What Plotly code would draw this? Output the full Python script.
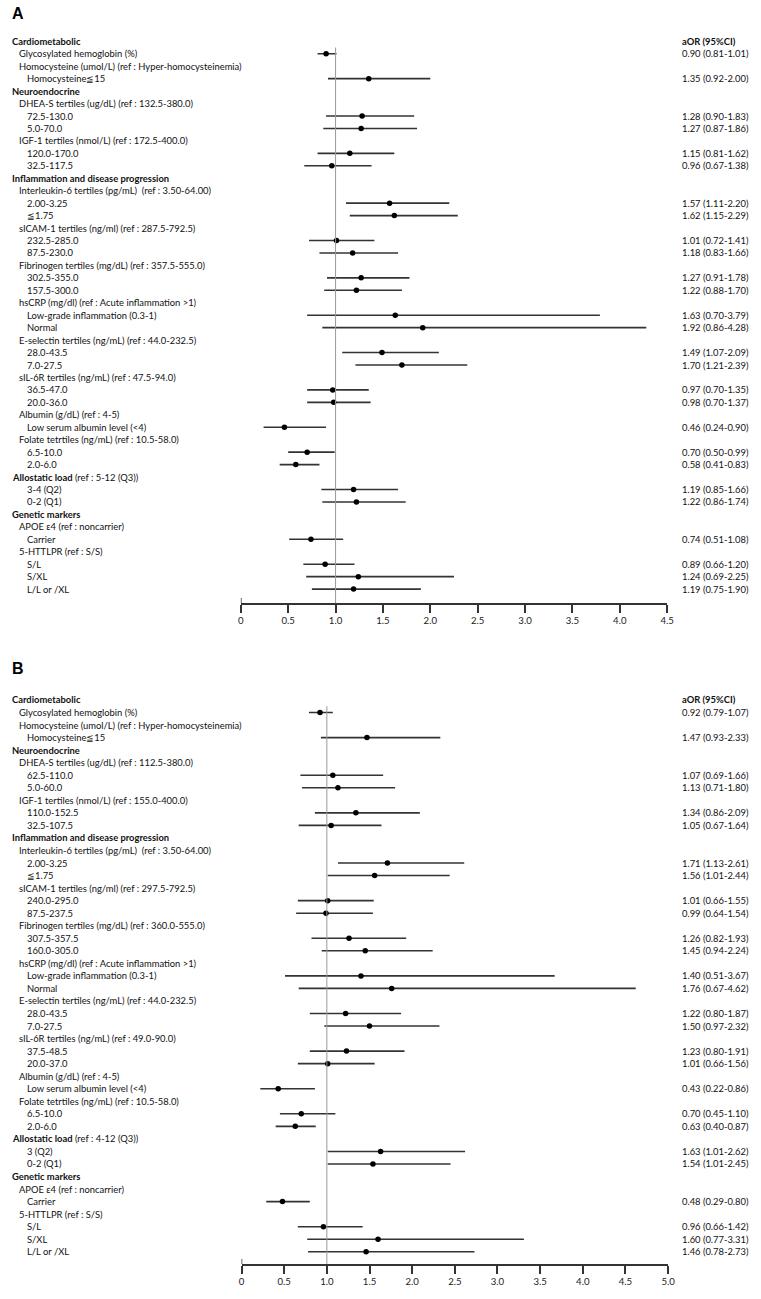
import plotly.graph_objects as go

# ---------------- data ----------------
labels_A = [
    "Cardiometabolic",
    "Glycosylated hemoglobin (%)",
    "Homocysteine (umol/L) (ref : Hyper-homocysteinemia)",
    "Homocysteine≦15",
    "Neuroendocrine",
    "DHEA-S tertiles (ug/dL) (ref : 132.5-380.0)",
    "72.5-130.0",
    "5.0-70.0",
    "IGF-1 tertiles (nmol/L) (ref : 172.5-400.0)",
    "120.0-170.0",
    "32.5-117.5",
    "Inflammation and disease progression",
    "Interleukin-6 tertiles (pg/mL)  (ref : 3.50-64.00)",
    "2.00-3.25",
    "≦1.75",
    "sICAM-1 tertiles (ng/ml) (ref : 287.5-792.5)",
    "232.5-285.0",
    "87.5-230.0",
    "Fibrinogen tertiles (mg/dL) (ref : 357.5-555.0)",
    "302.5-355.0",
    "157.5-300.0",
    "hsCRP (mg/dl) (ref : Acute inflammation >1)",
    "Low-grade inflammation (0.3-1)",
    "Normal",
    "E-selectin tertiles (ng/mL) (ref : 44.0-232.5)",
    "28.0-43.5",
    "7.0-27.5",
    "sIL-6R tertiles (ng/mL) (ref : 47.5-94.0)",
    "36.5-47.0",
    "20.0-36.0",
    "Albumin (g/dL) (ref : 4-5)",
    "Low serum albumin level (<4)",
    "Folate tetrtiles (ng/mL) (ref : 10.5-58.0)",
    "6.5-10.0",
    "2.0-6.0",
    "<b>Allostatic load</b> (ref : 5-12 (Q3))",
    "3-4 (Q2)",
    "0-2 (Q1)",
    "Genetic markers",
    "APOE ε4 (ref : noncarrier)",
    "Carrier",
    "5-HTTLPR (ref : S/S)",
    "S/L",
    "S/XL",
    "L/L or /XL",
]

labels_B = [
    "Cardiometabolic",
    "Glycosylated hemoglobin (%)",
    "Homocysteine (umol/L) (ref : Hyper-homocysteinemia)",
    "Homocysteine≦15",
    "Neuroendocrine",
    "DHEA-S tertiles (ug/dL) (ref : 112.5-380.0)",
    "62.5-110.0",
    "5.0-60.0",
    "IGF-1 tertiles (nmol/L) (ref : 155.0-400.0)",
    "110.0-152.5",
    "32.5-107.5",
    "Inflammation and disease progression",
    "Interleukin-6 tertiles (pg/mL)  (ref : 3.50-64.00)",
    "2.00-3.25",
    "≦1.75",
    "sICAM-1 tertiles (ng/ml) (ref : 297.5-792.5)",
    "240.0-295.0",
    "87.5-237.5",
    "Fibrinogen tertiles (mg/dL) (ref : 360.0-555.0)",
    "307.5-357.5",
    "160.0-305.0",
    "hsCRP (mg/dl) (ref : Acute inflammation >1)",
    "Low-grade inflammation (0.3-1)",
    "Normal",
    "E-selectin tertiles (ng/mL) (ref : 44.0-232.5)",
    "28.0-43.5",
    "7.0-27.5",
    "sIL-6R tertiles (ng/mL) (ref : 49.0-90.0)",
    "37.5-48.5",
    "20.0-37.0",
    "Albumin (g/dL) (ref : 4-5)",
    "Low serum albumin level (<4)",
    "Folate tetrtiles (ng/mL) (ref : 10.5-58.0)",
    "6.5-10.0",
    "2.0-6.0",
    "<b>Allostatic load</b> (ref : 4-12 (Q3))",
    "3 (Q2)",
    "0-2 (Q1)",
    "Genetic markers",
    "APOE ε4 (ref : noncarrier)",
    "Carrier",
    "5-HTTLPR (ref : S/S)",
    "S/L",
    "S/XL",
    "L/L or /XL",
]

# indent level per row: 0 = bold section header, 1 = variable, 2 = category
levels = [0, 1, 1, 2, 0, 1, 2, 2, 1, 2, 2, 0, 1, 2, 2, 1, 2, 2, 1, 2, 2,
          1, 2, 2, 1, 2, 2, 1, 2, 2, 1, 2, 1, 2, 2, 0, 2, 2, 0, 1, 2, 1, 2, 2, 2]

# row index of each estimate
est_rows = [1, 3, 6, 7, 9, 10, 13, 14, 16, 17, 19, 20, 22, 23, 25, 26, 28, 29,
            31, 33, 34, 36, 37, 40, 42, 43, 44]

or_A = [0.90, 1.35, 1.28, 1.27, 1.15, 0.96, 1.57, 1.62, 1.01, 1.18, 1.27, 1.22,
        1.63, 1.92, 1.49, 1.70, 0.97, 0.98, 0.46, 0.70, 0.58, 1.19, 1.22, 0.74,
        0.89, 1.24, 1.19]
lo_A = [0.81, 0.92, 0.90, 0.87, 0.81, 0.67, 1.11, 1.15, 0.72, 0.83, 0.91, 0.88,
        0.70, 0.86, 1.07, 1.21, 0.70, 0.70, 0.24, 0.50, 0.41, 0.85, 0.86, 0.51,
        0.66, 0.69, 0.75]
hi_A = [1.01, 2.00, 1.83, 1.86, 1.62, 1.38, 2.20, 2.29, 1.41, 1.66, 1.78, 1.70,
        3.79, 4.28, 2.09, 2.39, 1.35, 1.37, 0.90, 0.99, 0.83, 1.66, 1.74, 1.08,
        1.20, 2.25, 1.90]

or_B = [0.92, 1.47, 1.07, 1.13, 1.34, 1.05, 1.71, 1.56, 1.01, 0.99, 1.26, 1.45,
        1.40, 1.76, 1.22, 1.50, 1.23, 1.01, 0.43, 0.70, 0.63, 1.63, 1.54, 0.48,
        0.96, 1.60, 1.46]
lo_B = [0.79, 0.93, 0.69, 0.71, 0.86, 0.67, 1.13, 1.01, 0.66, 0.64, 0.82, 0.94,
        0.51, 0.67, 0.80, 0.97, 0.80, 0.66, 0.22, 0.45, 0.40, 1.01, 1.01, 0.29,
        0.66, 0.77, 0.78]
hi_B = [1.07, 2.33, 1.66, 1.80, 2.09, 1.64, 2.61, 2.44, 1.55, 1.54, 1.93, 2.24,
        3.67, 4.62, 1.87, 2.32, 1.91, 1.56, 0.86, 1.10, 0.87, 2.62, 2.45, 0.80,
        1.42, 3.31, 2.73]

ticks_A = [0, 0.5, 1.0, 1.5, 2.0, 2.5, 3.0, 3.5, 4.0, 4.5]
tick_text_A = ["0", "0.5", "1.0", "1.5", "2.0", "2.5", "3.0", "3.5", "4.0", "4.5"]
ticks_B = [0, 0.5, 1.0, 1.5, 2.0, 2.5, 3.0, 3.5, 4.0, 4.5, 5.0]
tick_text_B = ["0", "0.5", "1.0", "1.5", "2.0", "2.5", "3.0", "3.5", "4.0", "4.5", "5.0"]

col_header = "aOR (95%CI)"

# ---------------- layout constants (pixels) ----------------
W, H = 761, 1299
FONT = "Lato"
FS = 9.4
TXT = "#111111"
LINE = "#333333"
indent_px = [7.5, 14.5, 22.0]
value_x_px = 686

panels = [
    dict(name="A", labels=labels_A, orv=or_A, lo=lo_A, hi=hi_A, ticks=ticks_A,
         ticktext=tick_text_A, xmax=4.5, x0px=241.0, x1px=673.0,
         row0=41.3, step=12.45, axis_px=603.0, top_px=30.0, letter_px=14.0,
         xa="x", ya="y"),
    dict(name="B", labels=labels_B, orv=or_B, lo=lo_B, hi=hi_B, ticks=ticks_B,
         ticktext=tick_text_B, xmax=5.0, x0px=241.7, x1px=674.0,
         row0=700.0, step=12.54, axis_px=1264.0, top_px=690.0, letter_px=668.0,
         xa="x2", ya="y2"),
]

fig = go.Figure()
annotations = []
shapes = []

for p in panels:
    ybot = (p["axis_px"] - p["row0"]) / p["step"]
    ytop = (p["top_px"] - p["row0"]) / p["step"]
    yrows = [est_rows[i] for i in range(len(p["orv"]))]
    fig.add_trace(go.Scatter(
        x=p["orv"], y=yrows, xaxis=p["xa"], yaxis=p["ya"], mode="markers",
        marker=dict(color="black", size=5.5),
        error_x=dict(type="data", symmetric=False,
                     array=[h - o for h, o in zip(p["hi"], p["orv"])],
                     arrayminus=[o - l for o, l in zip(p["orv"], p["lo"])],
                     width=0, color=LINE, thickness=1.6),
        showlegend=False, hoverinfo="skip"))

    axkey = "xaxis" if p["xa"] == "x" else "xaxis2"
    aykey = "yaxis" if p["ya"] == "y" else "yaxis2"
    fig.update_layout(**{
        axkey: dict(domain=[p["x0px"] / W, p["x1px"] / W], range=[0, p["xmax"]],
                    anchor=p["ya"], showgrid=False, zeroline=False, showline=True,
                    linecolor=LINE, linewidth=1.5, ticks="outside", ticklen=8,
                    tickwidth=1.5, tickcolor=LINE, tickvals=p["ticks"],
                    ticktext=p["ticktext"],
                    tickfont=dict(family=FONT, size=9.6, color="#222")),
        aykey: dict(domain=[1 - p["axis_px"] / H, 1 - p["top_px"] / H],
                    range=[ybot, ytop], anchor=p["xa"], showgrid=False,
                    zeroline=False, showline=False, showticklabels=False,
                    ticks=""),
    })

    # reference line at OR = 1
    shapes.append(dict(type="line", xref=p["xa"], yref=p["ya"], x0=1, x1=1,
                       y0=0.5, y1=ybot, line=dict(color="#999999", width=1)))
    # end cap at 0
    cap = 5.0 / p["step"]
    shapes.append(dict(type="line", xref=p["xa"], yref=p["ya"], x0=0, x1=0,
                       y0=ybot - cap, y1=ybot + cap,
                       line=dict(color=LINE, width=1.5)))

    # row labels
    for i, lab in enumerate(p["labels"]):
        lv = levels[i]
        txt = f"<b>{lab}</b>" if (lv == 0 and "<b>" not in lab) else lab
        annotations.append(dict(
            text=txt, xref="paper", yref=p["ya"], x=indent_px[lv] / W, y=i,
            xanchor="left", yanchor="middle", showarrow=False,
            font=dict(family=FONT, size=FS, color=TXT)))
    # column header
    annotations.append(dict(
        text=f"<b>{col_header}</b>", xref="paper", yref=p["ya"],
        x=715.5 / W, y=0, xanchor="center", yanchor="middle", showarrow=False,
        font=dict(family=FONT, size=FS, color=TXT)))
    # value texts
    for r, o, l, h in zip(est_rows, p["orv"], p["lo"], p["hi"]):
        annotations.append(dict(
            text=f"{o:.2f} ({l:.2f}-{h:.2f})", xref="paper", yref=p["ya"],
            x=value_x_px / W, y=r, xanchor="left", yanchor="middle",
            showarrow=False, font=dict(family=FONT, size=FS, color=TXT)))
    # panel letter
    annotations.append(dict(
        text=f"<b>{p['name']}</b>", xref="paper", yref="paper", x=7 / W,
        y=1 - p["letter_px"] / H, xanchor="left", yanchor="middle",
        showarrow=False,
        font=dict(family="Liberation Sans", size=16, color="black")))

fig.update_layout(width=W, height=H, margin=dict(l=0, r=0, t=0, b=0),
                  paper_bgcolor="white", plot_bgcolor="white",
                  annotations=annotations, shapes=shapes)

fig.write_html("out.html", config={"displayModeBar": False},
               post_script="document.body.style.margin='0px';"
                           "document.body.style.overflow='hidden';")
